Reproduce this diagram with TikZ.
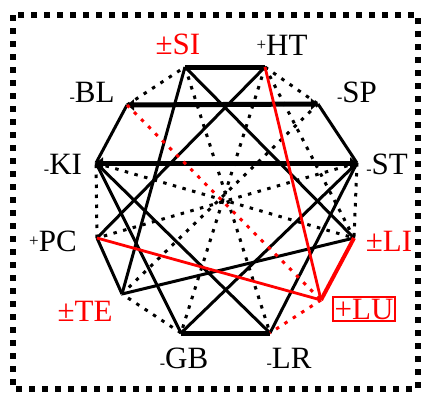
\documentclass[tikz,border=0pt]{standalone}
\usepackage{fontspec}
\setmainfont{Liberation Serif}
\usetikzlibrary{arrows.meta}

\begin{document}
\begin{tikzpicture}[x=1pt, y=-1pt, >={Triangle[length=7pt,width=11pt]},
      lbl/.style={font=\fontsize{31}{34}\selectfont, inner sep=0pt},
      thk/.style={line width=5pt},
      sol/.style={line width=3pt},
      dotl/.style={line width=3pt, dash pattern=on 3.5pt off 6.5pt},
      redsol/.style={draw=red, line width=2.8pt},
      reddot/.style={draw=red, line width=3pt, dash pattern=on 3.5pt off 6.5pt}]

    \useasboundingbox (0,0) rectangle (425,394);
    % frame
    \draw[line width=5.5pt, dash pattern=on 6pt off 7pt] (13,15) rectangle (418,389);

    % meridian points
    \coordinate (si) at (185,67);
    \coordinate (ht) at (265,67);
    \coordinate (sp) at (318,104);
    \coordinate (st) at (357,163);
    \coordinate (li) at (354,238);
    \coordinate (lu) at (321,300);
    \coordinate (lr) at (270,333);
    \coordinate (gb) at (181,333);
    \coordinate (te) at (122,294);
    \coordinate (pc) at (97,238);
    \coordinate (ki) at (96,163);
    \coordinate (bl) at (127,105);

    % labels
    \node[lbl, text=red] (si-l) at (178,44) {±SI};
    \node[lbl] (ht-l) at (282,45) {\raisebox{5pt}{\fontsize{17}{17}\selectfont +}HT};
    \node[lbl] (sp-l) at (357,92) {{\fontsize{16}{16}\selectfont -}SP};
    \node[lbl] (st-l) at (387,164) {{\fontsize{16}{16}\selectfont -}ST};
    \node[lbl, text=red] (li-l) at (389,241) {±LI};
    \node[lbl, text=red, draw=red, line width=2.5pt, inner sep=1.5pt] (lu-l) at (364,309) {+LU};
    \node[lbl] (lr-l) at (289,358) {{\fontsize{16}{16}\selectfont -}LR};
    \node[lbl] (gb-l) at (184,358) {{\fontsize{16}{16}\selectfont -}GB};
    \node[lbl, text=red] (te-l) at (85,311) {±TE};
    \node[lbl] (pc-l) at (53,241) {\raisebox{5pt}{\fontsize{17}{17}\selectfont +}PC};
    \node[lbl] (ki-l) at (63,164) {{\fontsize{16}{16}\selectfont -}KI};
    \node[lbl] (bl-l) at (92,92) {{\fontsize{16}{16}\selectfont -}BL};

    % dotted
    \draw[dotl] (ht) -- (sp);
    \draw[dotl] (st) -- (li);
    \draw[dotl] (gb) -- (te);
    \draw[dotl] (pc) -- (ki);
    \draw[dotl] (bl) -- (si);
    \draw[dotl] (si) -- (lr);
    \draw[dotl] (ht) -- (gb);
    \draw[dotl] (sp) -- (te);
    \draw[dotl] (st) -- (pc);
    \draw[dotl] (ki) -- (li);
    \draw[dotl] (ht) -- (li);

    % solid
    \draw[sol] (sp) -- (st);
    \draw[sol] (te) -- (pc);
    \draw[sol] (ki) -- (bl);
    \draw[sol] (si) -- (te);
    \draw[sol] (si) -- (li);
    \draw[sol] (ht) -- (pc);
    \draw[sol] (st) -- (gb);
    \draw[sol] (st) -- (lr);
    \draw[sol] (te) -- (li);
    \draw[sol] (ki) -- (lr);
    \draw[sol] (ki) -- (gb);

    % thick
    \draw[thk] (si) -- (ht);
    \draw[thk, <->] (bl) -- (sp);
    \draw[thk, <->] (ki) -- (st);
    \draw[thk] (gb) -- (lr);

    % red
    \draw[reddot] (bl) -- (lu);
    \draw[reddot] (lu) -- (lr);
    \draw[redsol] (ht) -- (lu);
    \draw[redsol] (pc) -- (lu);
    \draw[redsol, line width=4pt] (li) -- (lu);
  \end{tikzpicture}
\end{document}
